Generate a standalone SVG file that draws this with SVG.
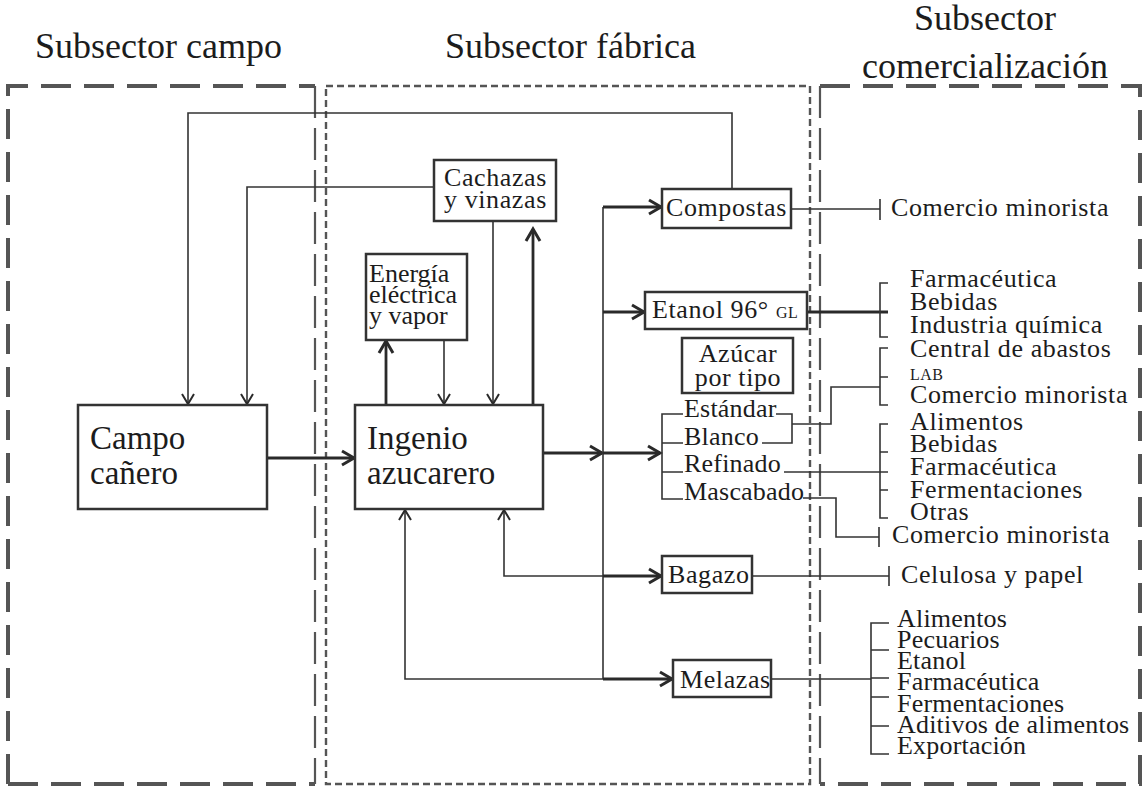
<svg xmlns="http://www.w3.org/2000/svg" width="1144" height="788" viewBox="0 0 1144 788">
<style>
text{font-family:"Liberation Serif","Times New Roman",serif;fill:#1c1c1c;}
.t{font-size:36px;}
.big{font-size:33px;}
.m{font-size:26px;letter-spacing:0.6px;}
.n{font-size:26px;letter-spacing:0.2px;}
.sc{font-size:16px;letter-spacing:0.5px;}
.box{fill:#fff;stroke:#333;stroke-width:2.5;}
.thin{fill:none;stroke:#333;stroke-width:1.6;}
.thk{fill:none;stroke:#2a2a2a;stroke-width:2.8;}
.pthick{fill:none;stroke:#555;stroke-width:4;stroke-dasharray:30 13;}
.pthin{fill:none;stroke:#555;stroke-width:2.2;stroke-dasharray:32 10;}
.pdot{fill:none;stroke:#555;stroke-width:2.4;stroke-dasharray:7 4;}
</style>
<defs>
<marker id="a1" markerUnits="userSpaceOnUse" markerWidth="16" markerHeight="16" viewBox="0 0 16 16" refX="13" refY="8" orient="auto">
<path d="M3,2 L13,8 L3,14" fill="none" stroke="#2a2a2a" stroke-width="2"/>
</marker>
<marker id="a2" markerUnits="userSpaceOnUse" markerWidth="18" markerHeight="18" viewBox="0 0 18 18" refX="15" refY="9" orient="auto">
<path d="M3,2 L15,9 L3,16" fill="none" stroke="#2a2a2a" stroke-width="3"/>
</marker>
</defs>

<g id="panels">
<path class="pthick" d="M8,784 L8,86 L315,86"/>
<path class="pthick" d="M8,784 L315,784"/>
<path class="pthin" d="M315,86 L315,784"/>
<rect class="pdot" x="326" y="86" width="484" height="698"/>
<path class="pthin" d="M820,86 L820,784"/>
<path class="pthick" d="M820,86 L1140,86 L1140,784 L820,784"/>
</g>

<g id="titles">
<text class="t" x="35" y="58">Subsector campo</text>
<text class="t" x="445" y="58">Subsector fábrica</text>
<text class="t" x="985" y="30" text-anchor="middle">Subsector</text>
<text class="t" x="985" y="78" text-anchor="middle">comercialización</text>
</g>

<g id="connectors">
<path class="thin" d="M732,189 L732,113 L188,113 L188,404" marker-end="url(#a1)"/>
<path class="thin" d="M434,187 L247,187 L247,404" marker-end="url(#a1)"/>
<path class="thk" d="M267,458 L354,458" marker-end="url(#a2)"/>
<path class="thk" d="M386,405 L386,341" marker-end="url(#a2)"/>
<path class="thin" d="M444,340 L444,404" marker-end="url(#a1)"/>
<path class="thin" d="M493,221 L493,404" marker-end="url(#a1)"/>
<path class="thk" d="M533,405 L533,229" marker-end="url(#a2)"/>
<path class="thk" d="M543,453 L602,453" marker-end="url(#a2)"/>
<path class="thin" d="M603,207 L603,679"/>
<path class="thk" d="M603,207 L661,207" marker-end="url(#a2)"/>
<path class="thk" d="M603,312 L644,312" marker-end="url(#a2)"/>
<path class="thk" d="M603,453 L660,453" marker-end="url(#a2)"/>
<path class="thk" d="M603,576 L661,576" marker-end="url(#a2)"/>
<path class="thin" d="M603,576 L504,576 L504,510" marker-end="url(#a1)"/>
<path class="thk" d="M603,679 L672,679" marker-end="url(#a2)"/>
<path class="thin" d="M603,679 L405,679 L405,510" marker-end="url(#a1)"/>
<path class="thin" d="M683,414 L662,414 L662,499 L683,499 M662,443 L683,443 M662,472 L683,472"/>
<path class="thin" d="M791,209 L880,209 M880,199 L880,220"/>
<path class="thk" d="M807,312 L888,312"/>
<path class="thin" d="M888,283 L880,283 L880,337 L888,337"/>
<path class="thin" d="M776,414 L792,414 L792,443 L762,443 M792,424 L831,424 L831,387 L880,387"/>
<path class="thin" d="M888,348 L880,348 L880,405 L888,405 M880,377 L888,377"/>
<path class="thin" d="M784,472 L888,472"/>
<path class="thin" d="M888,424 L880,424 L880,518 L888,518 M880,452 L888,452 M880,490 L888,490"/>
<path class="thin" d="M803,498 L836,498 L836,537 L879,537 M879,527 L879,547"/>
<path class="thin" d="M752,576 L889,576 M889,566 L889,586"/>
<path class="thin" d="M771,679 L871,679"/>
<path class="thin" d="M889,623 L871,623 L871,754 L889,754 M871,650 L889,650 M871,678 L889,678 M871,697 L889,697 M871,726 L889,726"/>
</g>

<g id="campo">
<rect class="box" x="78" y="405" width="189" height="104"/>
<text class="big" x="90" y="449">Campo</text>
<text class="big" x="90" y="484">cañero</text>
</g>
<g id="ingenio">
<rect class="box" x="355" y="405" width="188" height="104"/>
<text class="big" x="367" y="449">Ingenio</text>
<text class="big" x="367" y="484">azucarero</text>
</g>
<g id="energia">
<rect class="box" x="366" y="254" width="101" height="86"/>
<text class="n" x="369" y="282" style="letter-spacing:0">Energía</text>
<text class="n" x="369" y="303" style="letter-spacing:0">eléctrica</text>
<text class="n" x="369" y="324" style="letter-spacing:0">y vapor</text>
</g>
<g id="cachazas">
<rect class="box" x="434" y="160" width="122" height="61"/>
<text class="m" x="444" y="186">Cachazas</text>
<text class="m" x="444" y="208">y vinazas</text>
</g>
<g id="compostas">
<rect class="box" x="662" y="189" width="129" height="39"/>
<text class="m" x="666" y="216">Compostas</text>
</g>
<g id="etanol">
<rect class="box" x="645" y="292" width="162" height="37"/>
<text class="m" x="652" y="318">Etanol 96° <tspan class="sc">GL</tspan></text>
</g>
<g id="azucar">
<rect class="box" x="682" y="338" width="111" height="55"/>
<text class="m" x="738" y="362" text-anchor="middle">Azúcar</text>
<text class="m" x="738" y="386" text-anchor="middle">por tipo</text>
</g>
<g id="tipos">
<text class="n" x="684" y="417">Estándar</text>
<text class="n" x="684" y="445">Blanco</text>
<text class="n" x="684" y="472">Refinado</text>
<text class="n" x="684" y="500">Mascabado</text>
</g>
<g id="bagazo">
<rect class="box" x="662" y="556" width="90" height="37"/>
<text class="m" x="668" y="583">Bagazo</text>
</g>
<g id="melazas">
<rect class="box" x="673" y="660" width="98" height="37"/>
<text class="m" x="680" y="688">Melazas</text>
</g>

<g id="destinos">
<text class="m" x="891" y="216">Comercio minorista</text>
<text class="m" x="910" y="287">Farmacéutica</text>
<text class="m" x="910" y="310">Bebidas</text>
<text class="m" x="910" y="333">Industria química</text>
<text class="m" x="910" y="357">Central de abastos</text>
<text class="sc" x="910" y="380">LAB</text>
<text class="m" x="910" y="403">Comercio minorista</text>
<text class="m" x="910" y="430">Alimentos</text>
<text class="m" x="910" y="452">Bebidas</text>
<text class="m" x="910" y="475">Farmacéutica</text>
<text class="m" x="910" y="498">Fermentaciones</text>
<text class="m" x="910" y="520">Otras</text>
<text class="m" x="892" y="543">Comercio minorista</text>
<text class="m" x="901" y="583">Celulosa y papel</text>
<text class="n" x="897" y="627">Alimentos</text>
<text class="n" x="897" y="648">Pecuarios</text>
<text class="n" x="897" y="669">Etanol</text>
<text class="n" x="897" y="690">Farmacéutica</text>
<text class="n" x="897" y="712">Fermentaciones</text>
<text class="n" x="897" y="733">Aditivos de alimentos</text>
<text class="n" x="897" y="754">Exportación</text>
</g>
</svg>
